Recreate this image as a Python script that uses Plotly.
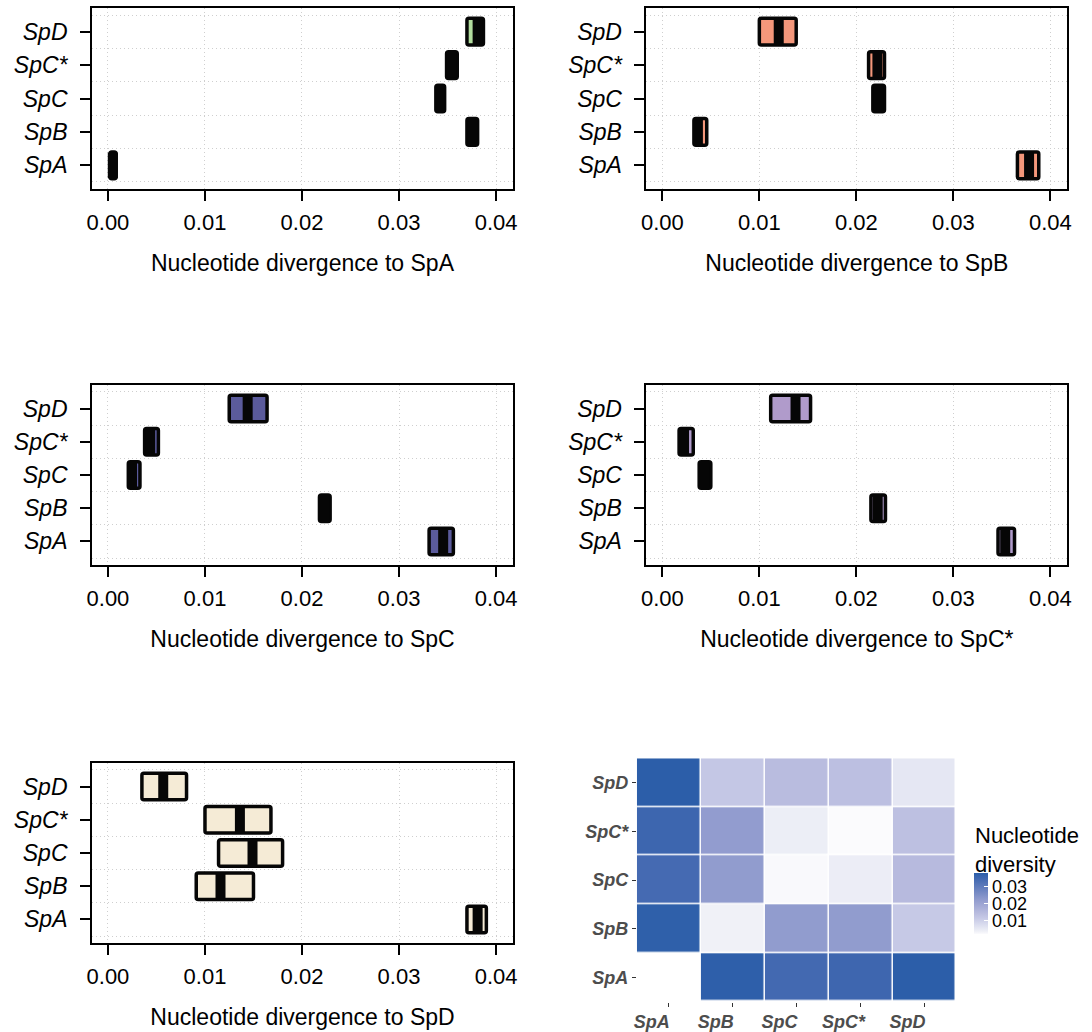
import plotly.graph_objects as go

W, H = 1092, 1032

species = ["SpA", "SpB", "SpC", "SpC*", "SpD"]
positions = [0, 1, 2, 3, 4]
x_ticks = [0.00, 0.01, 0.02, 0.03, 0.04]
x_ticklabels = ["0.00", "0.01", "0.02", "0.03", "0.04"]

# box statistics (q1, median, q3) per species, order SpA, SpB, SpC, SpC*, SpD
toA_q1 = [0.0002, 0.0370, 0.0338, 0.0349, 0.0370]
toA_med = [0.0005, 0.0376, 0.0342, 0.0354, 0.0381]
toA_q3 = [0.00085, 0.0381, 0.0347, 0.0360, 0.0387]

toB_q1 = [0.0366, 0.00326, 0.0217, 0.02126, 0.0100]
toB_med = [0.0378, 0.00367, 0.0223, 0.02217, 0.0120]
toB_q3 = [0.0388, 0.00458, 0.0229, 0.0229, 0.0138]

toC_q1 = [0.0331, 0.0218, 0.0021, 0.00378, 0.0125]
toC_med = [0.03455, 0.0223, 0.00248, 0.00435, 0.0144]
toC_q3 = [0.0356, 0.0229, 0.0033, 0.0052, 0.0164]

toCs_q1 = [0.0346, 0.0215, 0.0038, 0.00173, 0.01117]
toCs_med = [0.03534, 0.0222, 0.0044, 0.00224, 0.01373]
toCs_q3 = [0.0363, 0.0230, 0.0050, 0.00319, 0.01528]

toD_q1 = [0.0370, 0.0091, 0.0114, 0.0100, 0.0035]
toD_med = [0.0381, 0.0116, 0.0149, 0.0136, 0.0057]
toD_q3 = [0.0390, 0.0150, 0.0180, 0.0168, 0.0081]

panel_titles = ["Nucleotide divergence to SpA", "Nucleotide divergence to SpB",
                "Nucleotide divergence to SpC", "Nucleotide divergence to SpC*",
                "Nucleotide divergence to SpD"]
panel_fills = ["#b2dd9e", "#f4977b", "#5b5b9c", "#b09bcb", "#f5ebd6"]

# heatmap: rows (y) SpA..SpD, columns (x) SpA..SpD
diversity = [
    [None, 0.0378, 0.03455, 0.03534, 0.0381],
    [0.0376, 0.00367, 0.0223, 0.0222, 0.0116],
    [0.0342, 0.0223, 0.00248, 0.0044, 0.0149],
    [0.0354, 0.02217, 0.00435, 0.00224, 0.0136],
    [0.0381, 0.0120, 0.0144, 0.01373, 0.0057],
]
cbar_ticks = [0.01, 0.02, 0.03]
cbar_labels = ["0.01", "0.02", "0.03"]
legend_title = "Nucleotide<br>diversity"

FONT = "Liberation Sans, Arial, Helvetica, sans-serif"
INK = "#060606"

def px_dom_x(a, b):
    return [a / W, b / W]

def px_dom_y(top, bottom):
    return [1 - bottom / H, 1 - top / H]

panels = [
    (toA_q1, toA_med, toA_q3),
    (toB_q1, toB_med, toB_q3),
    (toC_q1, toC_med, toC_q3),
    (toCs_q1, toCs_med, toCs_q3),
    (toD_q1, toD_med, toD_q3),
]
panel_px = [
    (87, 512, 8, 189),
    (647, 1072, 8, 189),
    (87, 512, 385, 565),
    (647, 1072, 385, 565),
    (87, 512, 763, 943),
]

fig = go.Figure()
layout = {}
for i, ((q1, med, q3), (x0, x1, y0, y1)) in enumerate(zip(panels, panel_px)):
    n = i + 1
    xa = "x" if n == 1 else f"x{n}"
    ya = "y" if n == 1 else f"y{n}"
    widths = [b - a for a, b in zip(q1, q3)]
    fig.add_trace(go.Bar(
        x=widths, base=q1, y=positions, orientation="h", width=0.8,
        marker=dict(color=panel_fills[i], line=dict(color=INK, width=3.5), cornerradius=2),
        xaxis=xa, yaxis=ya, showlegend=False, hoverinfo="skip",
    ))
    fig.add_trace(go.Scatter(
        x=med, y=positions, mode="markers",
        marker=dict(symbol="line-ns", size=18, color=INK,
                    line=dict(width=10, color=INK)),
        xaxis=xa, yaxis=ya, showlegend=False, hoverinfo="skip",
    ))
    xkey = "xaxis" if n == 1 else f"xaxis{n}"
    ykey = "yaxis" if n == 1 else f"yaxis{n}"
    layout[xkey] = dict(
        domain=px_dom_x(x0, x1), anchor=ya, range=[-0.00163, 0.04173],
        tickvals=x_ticks, ticktext=x_ticklabels,
        showgrid=True, griddash="1px,3px", gridcolor="#cfcfcf", gridwidth=1,
        zeroline=False, showline=True, mirror=True, linecolor="black", linewidth=2,
        ticks="outside", ticklen=10, tickwidth=2, tickcolor="black",
        ticklabelstandoff=3,
        tickfont=dict(family=FONT, size=22, color="black"),
        title=dict(text=panel_titles[i], font=dict(family=FONT, size=23, color="black"), standoff=20),
    )
    layout[ykey] = dict(
        domain=px_dom_y(y0, y1), anchor=xa, range=[-0.71, 4.71],
        tickvals=positions, ticktext=species,
        showgrid=False, zeroline=False,
        minor=dict(tick0=0.5, dtick=1, showgrid=True, griddash="1px,3px",
                   gridcolor="#cfcfcf", gridwidth=1, ticks=""),
        showline=True, mirror=True, linecolor="black", linewidth=2,
        ticks="outside", ticklen=10, tickwidth=2, tickcolor="black",
        ticklabelstandoff=8,
        tickfont=dict(family=FONT, size=23, color="black", style="italic"),
    )

fig.add_trace(go.Heatmap(
    z=diversity, x=species, y=species, xaxis="x6", yaxis="y6",
    xgap=1.5, ygap=1.5, hoverinfo="skip",
    colorscale=[[0, "#fbfbfd"], [0.04, "#f0f1f7"], [0.095, "#e5e7f3"], [0.27, "#c4c7e5"],
                [0.34, "#b9bcdf"], [0.55, "#939dcf"], [0.9, "#4369b1"], [1, "#2c5ea9"]],
    colorbar=dict(
        x=978 / W, xanchor="left", y=1 - 903 / H, yanchor="middle",
        lenmode="pixels", len=61, thickness=14, outlinewidth=0, xpad=0, ypad=0,
        tickvals=cbar_ticks, ticktext=cbar_labels,
        ticks="inside", ticklen=4, tickcolor="white", tickwidth=1,
        tickfont=dict(family=FONT, size=18, color="black"),
    ),
))
layout["xaxis6"] = dict(
    domain=px_dom_x(637.3, 960), anchor="y6", showgrid=False, zeroline=False,
    ticks="outside", ticklen=4, tickcolor="#333333", tickwidth=1,
    tickfont=dict(family=FONT, size=18, color="#4d4d4d", style="italic", weight="bold"),
    ticklabelshift=-17,
)
layout["yaxis6"] = dict(
    domain=px_dom_y(758.3, 1001.7), anchor="x6", showgrid=False, zeroline=False,
    ticks="outside", ticklen=4, tickcolor="#333333", tickwidth=1,
    tickfont=dict(family=FONT, size=18, color="#4d4d4d", style="italic", weight="bold"),
)

fig.update_layout(
    width=W, height=H, margin=dict(l=0, r=0, t=0, b=0),
    paper_bgcolor="white", plot_bgcolor="white", showlegend=False,
    font=dict(family=FONT), **layout,
    annotations=[dict(
        text=legend_title, xref="paper", yref="paper", x=977 / W, y=1 - 821 / H,
        xanchor="left", yanchor="top", align="left", showarrow=False,
        font=dict(family=FONT, size=22, color="black"),
    )],
)
fig.write_html("out.html")
